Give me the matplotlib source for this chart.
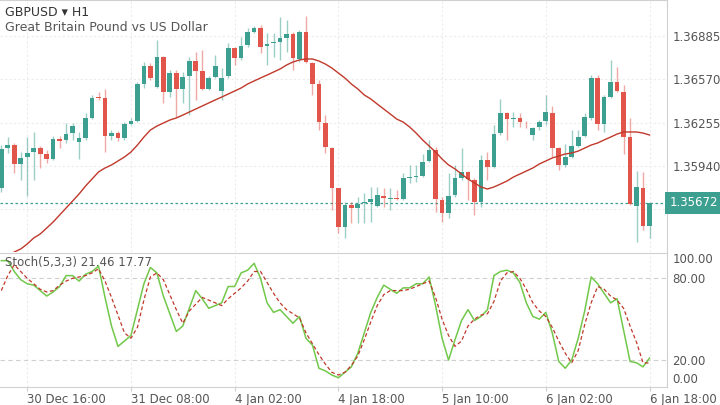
import numpy as np
import matplotlib
matplotlib.use('Agg')
import matplotlib.pyplot as plt
import matplotlib.transforms as mtransforms

plt.rcParams['font.family'] = ['DejaVu Sans']

# === 資料 (GBPUSD H1) ===
opens = [1.35779, 1.36070, 1.36092, 1.35954, 1.36005, 1.36041, 1.36070, 1.36027, 1.35990, 1.36136,
         1.36129, 1.36179, 1.36114, 1.36143, 1.36289, 1.36441, 1.36434, 1.36158, 1.36179, 1.36143,
         1.36245, 1.36267, 1.36536, 1.36667, 1.36514, 1.36732, 1.36478, 1.36616, 1.36500, 1.36594,
         1.36703, 1.36630, 1.36500, 1.36587, 1.36485, 1.36594, 1.36798, 1.36725, 1.36820, 1.36914,
         1.36943, 1.36812, 1.36834, 1.36841, 1.36871, 1.36900, 1.36718, 1.36914, 1.36689, 1.36536,
         1.36252, 1.36070, 1.35779, 1.35496, 1.35656, 1.35634, 1.35670, 1.35677, 1.35648, 1.35721,
         1.35699, 1.35707, 1.35699, 1.35852, 1.35859, 1.35867, 1.35976, 1.36056, 1.35692, 1.35597,
         1.35728, 1.35852, 1.35896, 1.35837, 1.35677, 1.35983, 1.35932, 1.36179, 1.36325, 1.36281,
         1.36289, 1.36259, 1.36165, 1.36223, 1.36267, 1.36325, 1.36070, 1.35947, 1.36005, 1.36085,
         1.36158, 1.36289, 1.36580, 1.36245, 1.36441, 1.36550, 1.36478, 1.36150, 1.35648, 1.35779,
         1.35503]
highs = [1.36092, 1.36150, 1.36107, 1.36041, 1.36150, 1.36187, 1.36085, 1.36056, 1.36158, 1.36158,
         1.36252, 1.36252, 1.36187, 1.36325, 1.36456, 1.36478, 1.36500, 1.36201, 1.36194, 1.36259,
         1.36289, 1.36550, 1.36696, 1.36689, 1.36856, 1.36740, 1.36638, 1.36638, 1.36623, 1.36732,
         1.36769, 1.36783, 1.36594, 1.36747, 1.36652, 1.36834, 1.36805, 1.36878, 1.36943, 1.36958,
         1.36965, 1.36907, 1.36907, 1.37023, 1.37002, 1.36914, 1.36929, 1.37031, 1.36696, 1.36565,
         1.36310, 1.36078, 1.35782, 1.35677, 1.35677, 1.35714, 1.35743, 1.35787, 1.35787, 1.35779,
         1.35779, 1.35765, 1.35888, 1.35947, 1.35947, 1.36027, 1.36129, 1.36078, 1.35714, 1.35888,
         1.35947, 1.36070, 1.35903, 1.35852, 1.36019, 1.36041, 1.36238, 1.36427, 1.36332, 1.36332,
         1.36325, 1.36267, 1.36223, 1.36274, 1.36456, 1.36376, 1.36078, 1.36099, 1.36201, 1.36201,
         1.36325, 1.36601, 1.36601, 1.36456, 1.36711, 1.36660, 1.36529, 1.36289, 1.35903, 1.35896,
         1.35677]
lows = [1.35750, 1.36034, 1.35888, 1.35837, 1.35721, 1.35837, 1.35925, 1.35961, 1.35983, 1.36070,
        1.36107, 1.36129, 1.35990, 1.36129, 1.36281, 1.36420, 1.36041, 1.36129, 1.36121, 1.36129,
        1.36238, 1.36259, 1.36507, 1.36565, 1.36507, 1.36398, 1.36441, 1.36296, 1.36398, 1.36310,
        1.36420, 1.36492, 1.36492, 1.36580, 1.36420, 1.36580, 1.36674, 1.36711, 1.36805, 1.36907,
        1.36761, 1.36674, 1.36732, 1.36711, 1.36769, 1.36638, 1.36696, 1.36689, 1.36456, 1.36201,
        1.36034, 1.35619, 1.35452, 1.35416, 1.35525, 1.35525, 1.35525, 1.35532, 1.35641, 1.35641,
        1.35619, 1.35692, 1.35692, 1.35816, 1.35823, 1.35859, 1.35969, 1.35605, 1.35532, 1.35561,
        1.35714, 1.35837, 1.35692, 1.35583, 1.35641, 1.35837, 1.35925, 1.36165, 1.36129, 1.36223,
        1.36223, 1.36216, 1.36129, 1.36201, 1.36238, 1.36005, 1.35910, 1.35932, 1.35998, 1.36078,
        1.36150, 1.36274, 1.36201, 1.36187, 1.36434, 1.36478, 1.36027, 1.35656, 1.35386, 1.35474,
        1.35416]
closes = [1.36063, 1.36092, 1.35954, 1.35998, 1.36034, 1.36070, 1.36027, 1.35990, 1.36136, 1.36121,
          1.36172, 1.36230, 1.36143, 1.36289, 1.36434, 1.36434, 1.36158, 1.36179, 1.36143, 1.36245,
          1.36267, 1.36536, 1.36667, 1.36580, 1.36732, 1.36478, 1.36616, 1.36500, 1.36587, 1.36703,
          1.36630, 1.36500, 1.36580, 1.36667, 1.36580, 1.36798, 1.36725, 1.36812, 1.36914, 1.36943,
          1.36805, 1.36827, 1.36841, 1.36871, 1.36900, 1.36725, 1.36914, 1.36696, 1.36536, 1.36259,
          1.36078, 1.35779, 1.35496, 1.35656, 1.35634, 1.35663, 1.35677, 1.35699, 1.35728, 1.35707,
          1.35707, 1.35696, 1.35852, 1.35859, 1.35867, 1.35969, 1.36056, 1.35699, 1.35597, 1.35721,
          1.35852, 1.35896, 1.35845, 1.35677, 1.35983, 1.35932, 1.36172, 1.36325, 1.36281, 1.36289,
          1.36259, 1.36256, 1.36216, 1.36259, 1.36332, 1.36070, 1.35947, 1.36005, 1.36085, 1.36150,
          1.36296, 1.36580, 1.36245, 1.36441, 1.36550, 1.36485, 1.36150, 1.35663, 1.35787, 1.35503,
          1.35672]
ma_line = [1.35234, 1.35277, 1.35314, 1.35336, 1.35372, 1.35416, 1.35445, 1.35488, 1.35532, 1.35583,
           1.35634, 1.35685, 1.35736, 1.35794, 1.35845, 1.35896, 1.35925, 1.35947, 1.35976, 1.36005,
           1.36041, 1.36092, 1.36150, 1.36201, 1.36230, 1.36252, 1.36274, 1.36289, 1.36310, 1.36332,
           1.36354, 1.36376, 1.36398, 1.36420, 1.36441, 1.36463, 1.36485, 1.36507, 1.36536, 1.36558,
           1.36580, 1.36601, 1.36623, 1.36645, 1.36674, 1.36696, 1.36711, 1.36718, 1.36718, 1.36703,
           1.36681, 1.36652, 1.36616, 1.36580, 1.36536, 1.36500, 1.36456, 1.36427, 1.36390, 1.36354,
           1.36318, 1.36281, 1.36259, 1.36223, 1.36179, 1.36129, 1.36085, 1.36041, 1.35990, 1.35947,
           1.35918, 1.35881, 1.35845, 1.35816, 1.35787, 1.35772, 1.35787, 1.35808, 1.35830, 1.35859,
           1.35881, 1.35903, 1.35925, 1.35954, 1.35976, 1.35998, 1.36012, 1.36027, 1.36034, 1.36048,
           1.36070, 1.36092, 1.36107, 1.36129, 1.36150, 1.36172, 1.36187, 1.36187, 1.36187, 1.36179,
           1.36165]
stoch_k = [93, 93, 85, 79, 76, 75, 71, 67, 70, 74, 82, 82, 78, 83, 85, 89, 66, 45, 30, 34,
           38, 57, 76, 88, 84, 67, 54, 41, 45, 58, 71, 65, 58, 60, 62, 74, 74, 84, 86, 91,
           80, 62, 55, 57, 52, 47, 52, 36, 31, 14, 12, 9, 7, 11, 15, 25, 40, 55, 66, 75,
           72, 69, 73, 73, 76, 76, 81, 60, 36, 20, 35, 49, 57, 49, 52, 57, 82, 85, 86, 84,
           77, 62, 52, 50, 55, 40, 19, 14, 20, 36, 56, 81, 76, 69, 62, 65, 42, 19, 18, 15,
           21.46]
stoch_d = [71, 82, 90, 85, 80, 76, 72, 70, 71, 75, 78, 80, 81, 82, 84, 87, 78, 66, 53, 40,
           36, 44, 64, 81, 84, 79, 68, 57, 47, 56, 61, 66, 64, 62, 60, 65, 69, 73, 78, 85,
           85, 77, 69, 62, 57, 54, 51, 40, 32, 24, 17, 11, 9, 11, 16, 23, 35, 48, 60, 68,
           71, 71, 71, 72, 74, 76, 78, 66, 50, 38, 30, 34, 45, 50, 53, 54, 63, 78, 84, 85,
           80, 72, 62, 56, 52, 44, 34, 25, 18, 27, 46, 62, 74, 72, 67, 64, 58, 45, 33, 18,
           17.77]
tick_idx = [4, 20, 36, 52, 68, 84, 100]
tick_labels = ['30 Dec 16:00', '31 Dec 08:00', '4 Jan 02:00', '4 Jan 18:00',
               '5 Jan 10:00', '6 Jan 02:00', '6 Jan 18:00']
price_ticks = [1.36885, 1.36570, 1.36255, 1.35940, 1.35625]
last_price = 1.35672

# === 顏色 ===
UP = '#3d9f8f'
DOWN = '#e1554b'
TXT = '#555555'
GRID = '#ececec'
BORDER = '#d0d0d0'

o = np.array(opens)
h = np.array(highs)
l = np.array(lows)
c = np.array(closes)
x = np.arange(len(o))
cols = np.where(c >= o, UP, DOWN)

fig = plt.figure(figsize=(7.2, 4.05), dpi=100)
ax1 = fig.add_axes([0, 0.3778, 0.9264, 0.6222])
ax2 = fig.add_axes([0, 0.0444, 0.9264, 0.3309], sharex=ax1)

# === 主圖：K 線 ===
for t in tick_idx:
    ax1.axvline(t, color=GRID, lw=0.8, ls=(0, (2, 2)), zorder=0)
    ax2.axvline(t, color=GRID, lw=0.8, ls=(0, (2, 2)), zorder=0)
for p in price_ticks:
    ax1.axhline(p, color=GRID, lw=0.8, ls=(0, (2, 2)), zorder=0)

ax1.vlines(x, l, h, color=cols, lw=1, alpha=0.5, zorder=2)
body = np.maximum(np.abs(c - o), 0.00003)
ax1.bar(x, body, bottom=np.minimum(o, c), width=0.72, color=cols, zorder=3)
ax1.plot(x, ma_line, color='#c0392b', lw=1, zorder=4)
ax1.axhline(last_price, color=UP, lw=0.9, ls=(0, (2, 2)), zorder=1)

ax1.set_xlim(-0.2, 102.7)
ax1.set_ylim(1.35314, 1.37147)
ax1.yaxis.tick_right()
ax1.set_yticks(price_ticks)
ax1.set_yticklabels([f'{p:.5f}' for p in price_ticks])
ax1.tick_params(axis='y', length=0, pad=4, labelsize=8.5, labelcolor=TXT)
ax1.tick_params(axis='x', bottom=False, labelbottom=False)
for s in ['left', 'bottom']:
    ax1.spines[s].set_visible(False)
for s in ['top', 'right']:
    ax1.spines[s].set_color(BORDER)

# 最新價標籤（蓋住 1.35625）
trans = mtransforms.blended_transform_factory(ax1.transAxes, ax1.transData)
ax1.text(1.004, last_price, f'{last_price:.5f}', transform=trans, color='white',
         fontsize=8.5, va='center', ha='left', zorder=10,
         bbox=dict(boxstyle='square,pad=0.4', fc=UP, ec='none'))

ax1.text(0.007, 0.975, 'GBPUSD \u25be H1', transform=ax1.transAxes, fontsize=9,
         color='#333333', va='top')
ax1.text(0.007, 0.915, 'Great Britain Pound vs US Dollar', transform=ax1.transAxes,
         fontsize=9, color=TXT, va='top')

# === 隨機指標 Stoch ===
ax2.axhline(80, color='#cfcfcf', lw=0.8, ls=(0, (4, 3)), zorder=1)
ax2.axhline(20, color='#cfcfcf', lw=0.8, ls=(0, (4, 3)), zorder=1)
ax2.plot(x, stoch_k, color='#72c84a', lw=1.1, zorder=3)
ax2.plot(x, stoch_d, color='#c0392b', lw=0.9, ls=(0, (3, 2)), zorder=4)
ax2.set_ylim(0.2, 98.6)
ax2.yaxis.tick_right()
ax2.set_yticks([80, 20])
ax2.set_yticklabels(['80.00', '20.00'])
ax2.tick_params(axis='y', length=0, pad=4, labelsize=8.5, labelcolor=TXT)
ax2.text(1.008, 0.955, '100.00', transform=ax2.transAxes, fontsize=8.5, color=TXT, va='center')
ax2.text(1.008, 0.057, '0.00', transform=ax2.transAxes, fontsize=8.5, color=TXT, va='center')
ax2.set_xticks(tick_idx)
ax2.set_xticklabels(tick_labels, ha='left')
ax2.tick_params(axis='x', length=3, color=BORDER, labelsize=8.5, labelcolor=TXT, pad=1)
ax2.spines['left'].set_visible(False)
for s in ['top', 'right', 'bottom']:
    ax2.spines[s].set_color(BORDER)
ax2.text(0.007, 0.93, 'Stoch(5,3,3) 21.46 17.77', transform=ax2.transAxes, fontsize=8.5,
         color=TXT, va='center')

fig.savefig('out.png', dpi=100)
